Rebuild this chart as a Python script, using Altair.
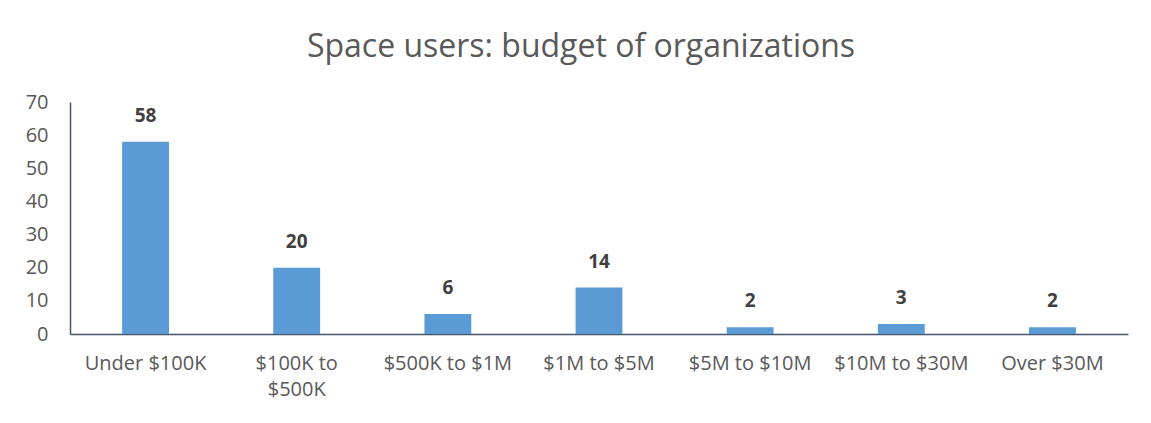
import altair as alt
import pandas as pd

categories = ["Under $100K", "$100K to $500K", "$500K to $1M", "$1M to $5M",
              "$5M to $10M", "$10M to $30M", "Over $30M"]
values = [58, 20, 6, 14, 2, 3, 2]
y_ticks = [0, 10, 20, 30, 40, 50, 60, 70]

df = pd.DataFrame({"category": categories, "value": values})

FONT = "Open Sans"

x = alt.X("category:N", sort=categories, title=None,
          scale=alt.Scale(paddingInner=0.69, paddingOuter=0.345),
          axis=alt.Axis(labelAngle=0, labelFontSize=20, labelColor="#595959",
                        labelFont=FONT, labelPadding=19, ticks=False,
                        domainColor="#44546A", domainWidth=1.5,
                        labelLimit=300, labelLineHeight=26,
                        labelExpr="datum.label == '$100K to $500K' ? ['$100K to', '$500K'] : datum.label"))
y = alt.Y("value:Q", title=None,
          scale=alt.Scale(domain=[0, 70], nice=False),
          axis=alt.Axis(values=y_ticks, labelFontSize=20, labelColor="#595959",
                        labelFont=FONT, labelPadding=22, ticks=False, grid=False,
                        domainColor="#44546A", domainWidth=1.5))

base = alt.Chart(df).encode(x=x, y=y)
bars = base.mark_bar(color="#5B9BD5")
labels = base.mark_text(fontSize=19, fontWeight="bold", font=FONT,
                        color="#404040", baseline="middle", dy=-26).encode(
    text="value:Q")

chart = (bars + labels).properties(
    width=1058, height=232,
    title=alt.TitleParams("Space users: budget of organizations", fontSize=32,
                          font=FONT, fontWeight="normal", color="#595959",
                          offset=28, dx=-18),
    autosize=alt.AutoSizeParams(type="none"),
    padding={"left": 62, "top": 94, "right": 15, "bottom": 80},
).configure_view(stroke=None)

chart.save("out.html", embed_options={"renderer": "svg", "actions": False})
